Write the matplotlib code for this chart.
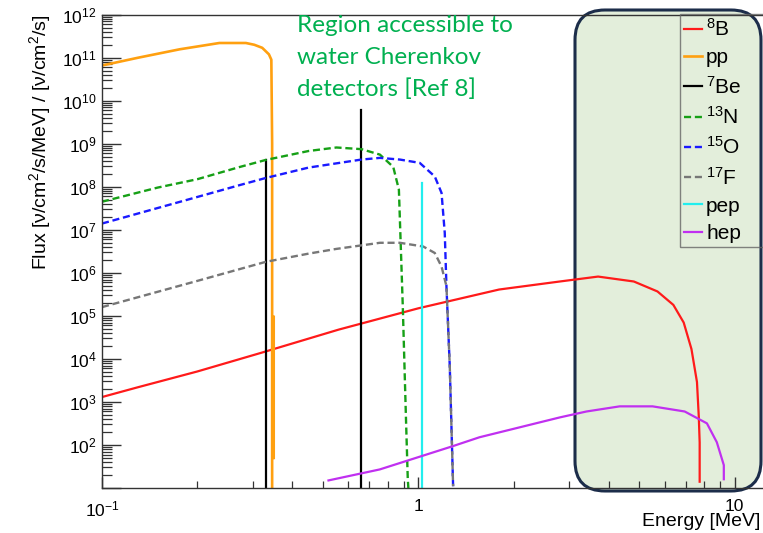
import numpy as np
import matplotlib
matplotlib.use("Agg")
import matplotlib.pyplot as plt
from matplotlib.patches import FancyBboxPatch
from matplotlib.ticker import LogLocator, FixedLocator, FuncFormatter, NullFormatter

plt.rcParams['font.family'] = ['Liberation Sans', 'DejaVu Sans']
plt.rcParams['mathtext.fontset'] = 'custom'
plt.rcParams['mathtext.rm'] = 'Liberation Sans'
plt.rcParams['mathtext.it'] = 'Liberation Sans:italic'
plt.rcParams['mathtext.bf'] = 'Liberation Sans:bold'

nan = np.nan

# solar neutrino spectra (energy in MeV, flux)
b8_E = [0.1, 0.13, 0.2, 0.32, 0.56, 1.0, 1.8, 2.8, 3.7, 4.8, 5.7, 6.4, 6.9, 7.3, 7.6, 7.7, 7.75, 7.75]
b8_F = [1.3e3, 2.2e3, 5.1e3, 1.4e4, 4.8e4, 1.5e5, 4.1e5, 6.3e5, 8.2e5, 6.3e5, 3.7e5, 1.8e5,
        7.0e4, 1.7e4, 2.9e3, 4.6e2, 1.15e2, 14]

pp_E = [0.1, 0.13, 0.176, 0.235, 0.285, 0.303, 0.321, 0.337, 0.343, 0.345, 0.345, nan, 0.349, 0.349]
pp_F = [6.6e10, 1.0e11, 1.57e11, 2.2e11, 2.2e11, 2.0e11, 1.7e11, 1.2e11, 9.0e10, 1e9, 10, nan, 9.5e4, 50]

be7_E = [0.329, 0.329, nan, 0.661, 0.661]
be7_F = [10, 4.2e8, nan, 10, 6.1e9]

n13_E = [0.1, 0.15, 0.2, 0.273, 0.329, 0.45, 0.551, 0.661, 0.756, 0.833, 0.868, 0.893, 0.914, 0.926, 0.93]
n13_F = [4.5e7, 9.6e7, 1.5e8, 2.9e8, 4.2e8, 6.8e8, 8.2e8, 7.5e8, 5.6e8, 2.9e8, 8.6e7, 1.65e5, 400, 16, 10]

o15_E = [0.1, 0.2, 0.273, 0.329, 0.45, 0.661, 0.756, 0.874, 1.01, 1.127, 1.184, 1.212, 1.227, 1.257, 1.288]
o15_F = [1.4e7, 5.8e7, 1.1e8, 1.6e8, 2.8e8, 4.3e8, 4.7e8, 4.3e8, 3.6e8, 1.74e8, 7.2e7, 8.5e6, 4.9e5, 6.8e3, 11]

f17_E = [0.1, 0.2, 0.329, 0.45, 0.55, 0.756, 0.874, 1.036, 1.127, 1.184, 1.227, 1.257, 1.288]
f17_F = [1.6e5, 6.5e5, 1.8e6, 2.8e6, 3.6e6, 5.0e6, 5.0e6, 4.1e6, 2.9e6, 1.4e6, 4.9e5, 6.8e3, 11]

pep_E = [1.026, 1.026]
pep_F = [10, 1.25e8]

hep_E = [0.52, 0.755, 1.28, 1.56, 2.8, 3.4, 4.33, 5.5, 6.95, 8.17, 8.78, 9.24, 9.24]
hep_F = [15, 27, 93, 151, 437, 600, 790, 790, 600, 318, 116, 34, 16]

W, H = 763, 533
fig = plt.figure(figsize=(W / 100, H / 100), dpi=100)
ax = fig.add_axes([102 / W, 45 / H, 660 / W, 473.3 / H])
ax.set_facecolor('none')

# green shaded "water Cherenkov" region (drawn in inches so the corners stay round)
box = FancyBboxPatch((5.75, 0.42), 1.86, 4.81, boxstyle='round,pad=0,rounding_size=0.3',
                     transform=fig.dpi_scale_trans, fc='#e3eedb', ec='#1c2d4a', lw=2.2, zorder=-1)
fig.add_artist(box)

dash = (0, (3, 1.6))
ax.plot(b8_E, b8_F, color='#ff1a1a', lw=1.6, label=r'$^{8}$B')
ax.plot(pp_E, pp_F, color='#ffa010', lw=1.9, label='pp')
ax.plot(be7_E, be7_F, color='black', lw=1.6, label=r'$^{7}$Be')
ax.plot(n13_E, n13_F, color='#16a016', lw=1.7, ls=dash, label=r'$^{13}$N')
ax.plot(o15_E, o15_F, color='#1a1aff', lw=1.7, ls=dash, label=r'$^{15}$O')
ax.plot(f17_E, f17_F, color='#777777', lw=1.7, ls=dash, label=r'$^{17}$F')
ax.plot(pep_E, pep_F, color='#22eeee', lw=1.6, label='pep')
ax.plot(hep_E, hep_F, color='#c030f0', lw=1.6, label='hep')

ax.set_xscale('log')
ax.set_yscale('log')
ax.set_xlim(0.1, 12.2)
ax.set_ylim(10, 1e12)

ax.xaxis.set_major_locator(FixedLocator([0.1, 1, 10]))
ax.xaxis.set_minor_locator(LogLocator(base=10, subs=np.arange(2, 10), numticks=20))
ax.xaxis.set_minor_formatter(NullFormatter())
ax.xaxis.set_major_formatter(FuncFormatter(
    lambda v, p: {0.1: r'$10^{-1}$', 1: '1', 10: '10'}.get(round(v, 3), '')))

ax.yaxis.set_major_locator(LogLocator(base=10, numticks=30))
ax.yaxis.set_minor_locator(LogLocator(base=10, subs=np.arange(2, 10), numticks=60))
ax.yaxis.set_minor_formatter(NullFormatter())
ax.yaxis.set_major_formatter(FuncFormatter(
    lambda v, p: '' if v < 50 else r'$10^{%d}$' % round(np.log10(v))))

ax.tick_params(which='both', direction='in', top=False, right=False, color='#333333',
               labelsize=12.5)
ax.tick_params(axis='y', which='major', length=14, width=1, pad=4)
ax.tick_params(axis='y', which='minor', length=7, width=0.9)
ax.tick_params(axis='x', which='major', length=8, width=1, pad=8)
ax.tick_params(axis='x', which='minor', length=5, width=0.9)

for s in ['left', 'bottom', 'top']:
    ax.spines[s].set_color('#333333')
    ax.spines[s].set_linewidth(1)
ax.spines['right'].set_visible(False)

leg = ax.legend(loc='upper left', bbox_to_anchor=(680 / W, 1 - 246 / H, 95 / W, 232 / H),
                bbox_transform=fig.transFigure, mode='expand',
                borderaxespad=0, fancybox=False, edgecolor='#666666', facecolor='none',
                fontsize=15, handlelength=0.85, handletextpad=0.2, labelspacing=0.4,
                borderpad=0.2)
leg.get_frame().set_linewidth(1)

fig.text(297 / W, 1 - 15 / H, "Region accessible to\nwater Cherenkov\ndetectors [Ref 8]",
         color='#00b050', fontsize=17.5, family='Lato', va='top', ha='left', linespacing=1.62)

fig.text(760 / W, 1 - 521 / H, 'Energy [MeV]', ha='right', va='center', fontsize=14)
fig.text(40 / W, 1 - 15 / H, r'Flux [ν/cm$^{2}$/s/MeV] / [ν/cm$^{2}$/s]', rotation=90,
         ha='center', va='top', fontsize=14)

fig.savefig('out.png', dpi=100)
